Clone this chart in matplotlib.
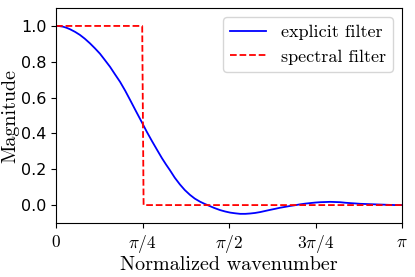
import numpy as np
import matplotlib
matplotlib.use("Agg")
import matplotlib.pyplot as plt

plt.rcParams['mathtext.fontset'] = 'cm'

# wavenumber in units of pi, magnitudes
k_explicit = [0.000, 0.010, 0.020, 0.030, 0.040, 0.055, 0.069, 0.083, 0.098, 0.112,
              0.127, 0.141, 0.156, 0.170, 0.185, 0.200, 0.214, 0.231, 0.248, 0.262,
              0.277, 0.292, 0.306, 0.318, 0.329, 0.343, 0.358, 0.372, 0.387, 0.401,
              0.416, 0.428, 0.440, 0.457, 0.474, 0.489, 0.503, 0.518, 0.532, 0.547,
              0.561, 0.575, 0.590, 0.604, 0.618, 0.633, 0.647, 0.662, 0.676, 0.690,
              0.705, 0.720, 0.734, 0.749, 0.763, 0.778, 0.792, 0.807, 0.821, 0.836,
              0.850, 0.865, 0.879, 0.894, 0.908, 0.922, 0.936, 0.950, 0.965, 0.982,
              1.000]
h_explicit = [1.000, 0.999, 0.996, 0.990, 0.982, 0.967, 0.950, 0.929, 0.903, 0.876,
              0.845, 0.810, 0.772, 0.731, 0.688, 0.638, 0.587, 0.524, 0.462, 0.410,
              0.358, 0.308, 0.262, 0.226, 0.195, 0.153, 0.115, 0.084, 0.057, 0.036,
              0.019, 0.008, -0.002, -0.016, -0.028, -0.036, -0.042, -0.046, -0.049, -0.049,
              -0.047, -0.044, -0.039, -0.033, -0.027, -0.021, -0.015, -0.010, -0.005, -0.001,
              0.004, 0.008, 0.011, 0.014, 0.016, 0.017, 0.018, 0.017, 0.016, 0.013,
              0.011, 0.009, 0.007, 0.006, 0.005, 0.004, 0.003, 0.002, 0.001, 0.000,
              0.000]

k_spectral = [0.0, 0.249, 0.253, 1.0]
h_spectral = [1.0, 1.0, 0.0, 0.0]

xticks = [0, 0.25, 0.5, 0.75, 1.0]
xticklabels = [r'$0$', r'$\pi/4$', r'$\pi/2$', r'$3\pi/4$', r'$\pi$']

fig = plt.figure(figsize=(4.15, 2.77), dpi=100)
ax = fig.add_axes([0.135, 0.195, 0.834, 0.776])

ax.plot(k_explicit, h_explicit, 'b-', lw=1.3, label='explicit filter')
ax.plot(k_spectral, h_spectral, 'r--', lw=1.3, label='spectral filter')

ax.set_xlim(0, 1)
ax.set_ylim(-0.1, 1.1)
ax.set_xticks(xticks)
ax.set_xticklabels(xticklabels, fontsize=12.5)
ax.set_yticks([0.0, 0.2, 0.4, 0.6, 0.8, 1.0])
ax.tick_params(axis='y', labelsize=11.5)
ax.set_xlabel('Normalized wavenumber', fontname='cmr10', fontsize=14.5, labelpad=1)
ax.set_ylabel('Magnitude', fontname='cmr10', fontsize=14.5, labelpad=1)

ax.legend(loc='upper right', prop={'family': 'cmr10', 'size': 13})

fig.savefig('out.png', dpi=100)
